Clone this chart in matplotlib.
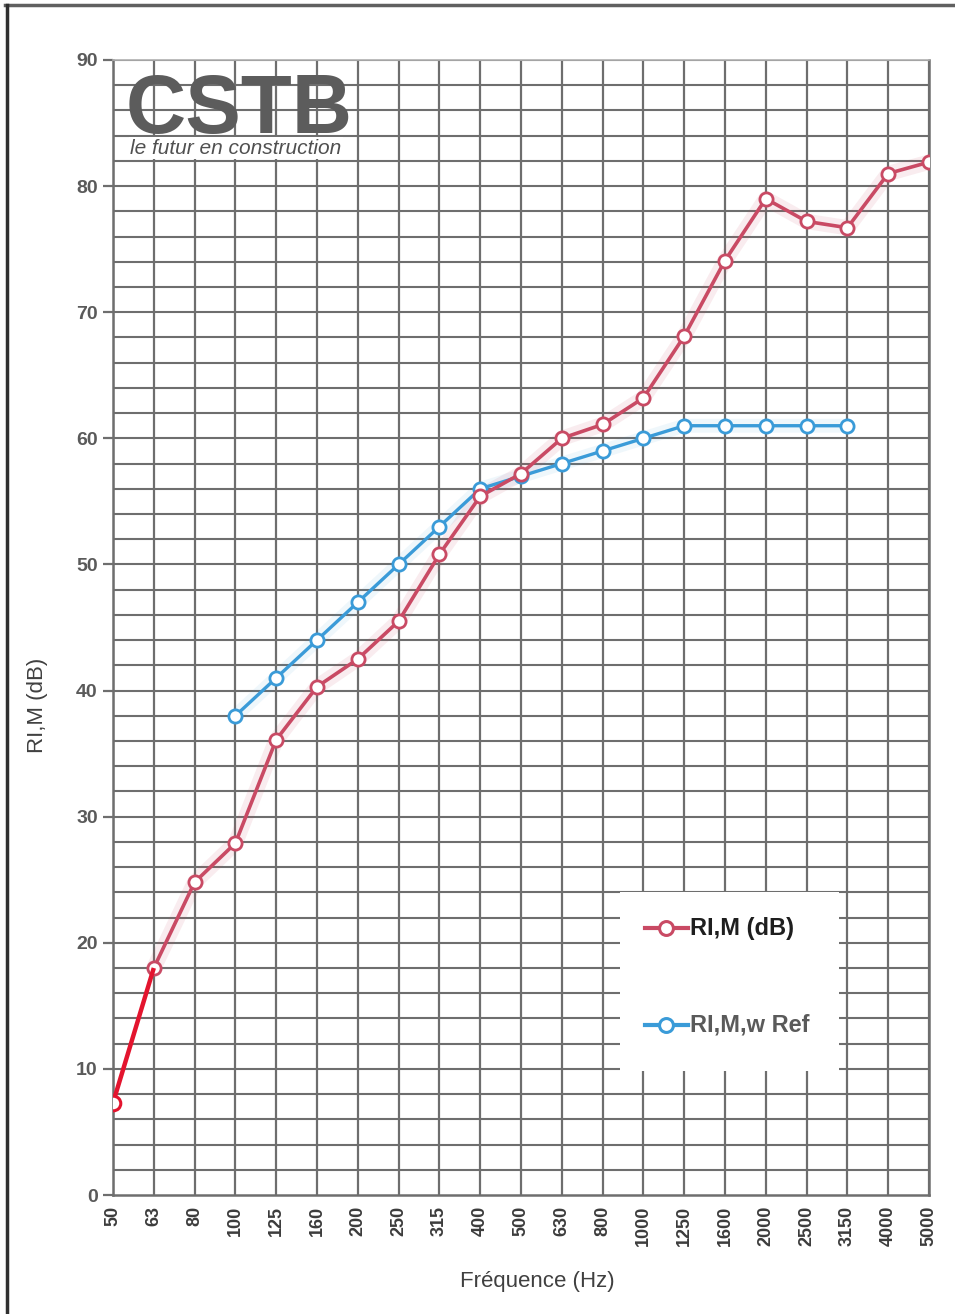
import matplotlib
matplotlib.use("Agg")
import matplotlib.pyplot as plt
from matplotlib.lines import Line2D
from matplotlib.patches import Rectangle

# Third-octave band centre frequencies (Hz)
freqs = ["50", "63", "80", "100", "125", "160", "200", "250", "315", "400",
         "500", "630", "800", "1000", "1250", "1600", "2000", "2500", "3150",
         "4000", "5000"]

# Measured sound reduction index RI,M (dB), one value per band
ri_m = [7.3, 18.0, 24.8, 27.9, 36.1, 40.3, 42.5, 45.5, 50.8, 55.4,
        57.2, 60.0, 61.1, 63.2, 68.1, 74.1, 79.0, 77.2, 76.7, 81.0, 81.9]

# Reference curve RI,M,w Ref, defined from 100 Hz to 3150 Hz
ref_freqs = ["100", "125", "160", "200", "250", "315", "400", "500", "630",
             "800", "1000", "1250", "1600", "2000", "2500", "3150"]
ri_ref = [38, 41, 44, 47, 50, 53, 56, 57, 58, 59, 60, 61, 61, 61, 61, 61]

y_ticks = list(range(0, 91, 10))

PINK = "#c94a64"
RED = "#e3142e"
BLUE = "#3a9bd8"
GRID = "#6e6e6e"
W, H = 955, 1314

plt.rcParams["font.family"] = ["Liberation Sans", "DejaVu Sans"]

fig = plt.figure(figsize=(W / 100, H / 100), dpi=100)
ax = fig.add_axes([113 / W, 1 - 1195 / H, 816 / W, 1135 / H])

xi = {f: i for i, f in enumerate(freqs)}
x_main = [xi[f] for f in freqs]
x_ref = [xi[f] for f in ref_freqs]

# grid: one vertical per band, horizontals every 2 dB
for x in x_main:
    ax.axvline(x, color=GRID, lw=1.6, zorder=1)
for y in range(2, 91, 2):
    ax.axhline(y, color=GRID, lw=1.5, zorder=1)

# legend panel sits on top of the grid
ax.add_patch(Rectangle((620, H - 1071), 219, 179, transform=None,
                       facecolor="white", edgecolor="none", zorder=2))

# soft halo under the traces (scan bleed)
ax.plot(x_main[1:], ri_m[1:], color=PINK, lw=11, alpha=0.10, zorder=3,
        solid_capstyle="round")
ax.plot(x_ref, ri_ref, color=BLUE, lw=10, alpha=0.08, zorder=3,
        solid_capstyle="round")

ax.plot(x_ref, ri_ref, color=BLUE, lw=2.4, marker="o", ms=9.5,
        mfc="white", mec=BLUE, mew=2.0, zorder=4)
ax.plot(x_main[1:], ri_m[1:], color=PINK, lw=2.6, marker="o", ms=9.5,
        mfc="white", mec=PINK, mew=2.0, zorder=5)
ax.plot(x_main[:2], ri_m[:2], color=RED, lw=3.2, zorder=6,
        solid_capstyle="butt")
ax.plot(x_main[:1], ri_m[:1], ls="none", marker="o", ms=10.5,
        mfc="white", mec=RED, mew=2.2, zorder=7)

ax.set_xlim(0, len(freqs) - 1)
ax.set_ylim(0, 90)
ax.set_xticks(x_main)
ax.set_xticklabels(freqs, rotation=90, fontsize=13, fontweight="bold",
                   color="#3c3c3c")
ax.set_yticks(y_ticks)
ax.set_yticklabels([str(v) for v in y_ticks], fontsize=14,
                   fontweight="bold", color="#5a5a5a")
ax.tick_params(axis="x", length=0, pad=8)
ax.tick_params(axis="y", length=7, width=1.6, color=GRID, pad=4)
for side in ("left", "bottom", "right"):
    ax.spines[side].set_color(GRID)
    ax.spines[side].set_linewidth(1.8)
ax.spines["top"].set_color("#b0b0b0")
ax.spines["top"].set_linewidth(1.2)

# axis titles
fig.text(537 / W, 1 - 1281 / H, "Fréquence (Hz)", fontsize=16,
         color="#404040", ha="center", va="center")
fig.text(38 / W, 1 - 705 / H, "RI,M (dB)", fontsize=16, color="#404040",
         rotation=90, ha="center", va="center")

# legend entries drawn by hand inside the white panel
for y_px, col, label, tcol in ((928, PINK, "RI,M (dB)", "#1e1e1e"),
                               (1025, BLUE, "RI,M,w Ref", "#5a5a5a")):
    fy = 1 - y_px / H
    fig.add_artist(Line2D([645 / W, 688 / W], [fy, fy], color=col,
                          lw=3, zorder=10))
    fig.add_artist(Line2D([666 / W], [fy], ls="none", marker="o", ms=10,
                          mfc="white", mec=col, mew=2.2, zorder=11))
    fig.text(690 / W, fy, label, fontsize=17, color=tcol,
             fontweight="bold", va="center", ha="left", zorder=12)

# CSTB logo
fig.text(126 / W, 1 - 133 / H, "CSTB", fontsize=60, fontweight="bold",
         color="#5c5c5c", va="baseline", ha="left", zorder=10)
fig.text(130 / W, 1 - 148 / H, "le futur en construction", fontsize=15,
         style="italic", color="#505050", va="center", ha="left", zorder=10,
         bbox=dict(facecolor="white", edgecolor="none", pad=1.0))

# page frame
fig.add_artist(Line2D([5 / W, 1.0], [1 - 5 / H, 1 - 5 / H],
                      color="#606060", lw=2.5))
fig.add_artist(Line2D([7 / W, 7 / W], [0, 1 - 5 / H],
                      color="#303030", lw=2.5))

fig.savefig("out.png", dpi=100, facecolor="white")
